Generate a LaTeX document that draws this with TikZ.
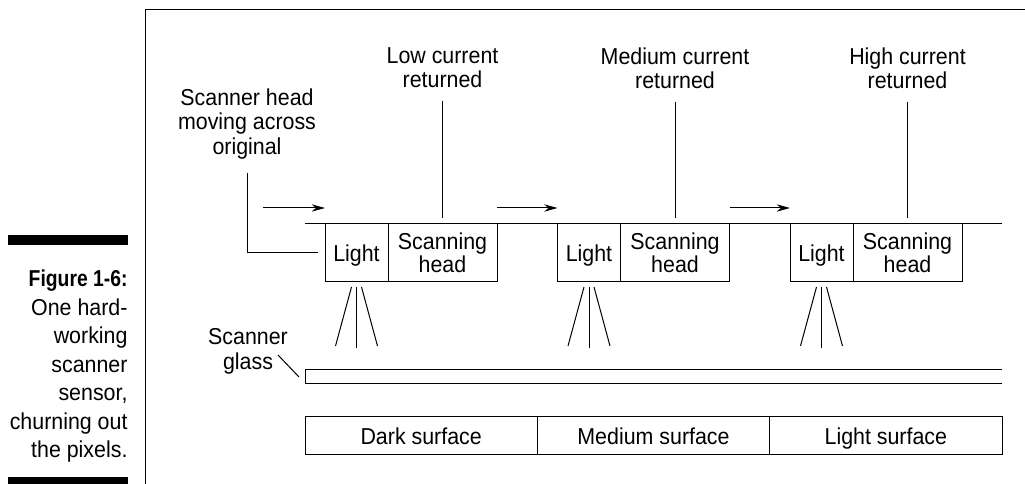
\documentclass[tikz,border=0pt]{standalone}
\usepackage{fontspec}
\setmainfont{Liberation Sans}[FakeStretch=0.93]
\newfontfamily\figfont{Liberation Sans}[FakeStretch=0.84]
\usetikzlibrary{positioning}
\usetikzlibrary{calc}
\usetikzlibrary{arrows.meta}

\tikzset{
  callout/.style = {font = \fontsize{17.25pt}{18.5pt}\selectfont, align = center,
    inner sep = 0},
  lightbox/.style = {draw, minimum width = 47.25pt, minimum height = 43.5pt,
    inner sep = 0, outer sep = 0, text depth = 0pt,
    font = \fontsize{17.25pt}{17.5pt}\selectfont},
  headbox/.style = {draw, minimum width = 81.75pt, minimum height = 43.5pt,
    inner sep = 0, outer sep = 0, align = center,
    font = \fontsize{17.25pt}{17.5pt}\selectfont},
  surface/.style = {draw, minimum width = 174.25pt, minimum height = 28.5pt,
    inner sep = 0, outer sep = 0, text depth = 0pt,
    font = \fontsize{17.25pt}{17.5pt}\selectfont},
  move/.style = {-{Stealth[length = 10pt, width = 5.5pt]}}
}

\begin{document}
\begin{tikzpicture}[x = 0.75pt, y = -0.75pt, line width = 0.75pt]
  \useasboundingbox (0, 0) rectangle (1025, 484);

  % frame and caption bars
  \draw (145, 484) -- (145, 10) -- (1025, 10);
  \fill (8, 235) rectangle (128, 245);
  \fill (8, 477) rectangle (128, 484);

  \node[callout, align = right, anchor = north east,
    font = \fontsize{17.25pt}{21.4pt}\selectfont] (caption) at (128, 269.5)
  {{\figfont\bfseries Figure 1-6:}\\One hard-\\working\\scanner\\sensor,\\churning out\\the pixels.};

  % rail and the three head positions
  \draw (305, 224) -- (1002, 224);

  \node[lightbox] (light1) at (356.5, 253) {Light};
  \node[headbox, right = 0pt of light1] (head1) {Scanning\\head};
  \node[lightbox] (light2) at (589, 253) {Light};
  \node[headbox, right = 0pt of light2] (head2) {Scanning\\head};
  \node[lightbox] (light3) at (821.5, 253) {Light};
  \node[headbox, right = 0pt of light3] (head3) {Scanning\\head};

  % returned currents
  \node[callout, anchor = north] (low) at (442.5, 47) {Low current\\returned};
  \node[callout, anchor = north] (medium) at (675, 47) {Medium current\\returned};
  \node[callout, anchor = north] (high) at (907.5, 47) {High current\\returned};

  \draw[shorten < = 9pt, shorten > = 4.5pt] (low.south) -- (head1.north);
  \draw[shorten < = 9pt, shorten > = 4.5pt] (medium.south) -- (head2.north);
  \draw[shorten < = 9pt, shorten > = 4.5pt] (high.south) -- (head3.north);

  % head moving
  \node[callout, anchor = north] (moving) at (247, 88)
  {Scanner head\\moving across\\original};
  \draw[shorten < = 9.75pt, shorten > = 5.25pt] (moving.south) |- (light1.west);

  \coordinate (start) at (263, 208);
  \draw[move] (start) -- (start -| light1.west);
  \draw[move] (start -| head1.east) -- (start -| light2.west);
  \draw[move] (start -| head2.east) -- (start -| light3.west);

  % light rays
  \draw ($(light1.south) + (0, 5)$) -- +(0, 61);
  \draw ($(light1.south) + (-5, 5)$) -- +(-16, 59);
  \draw ($(light1.south) + (5, 5)$) -- +(16, 59);
  \draw ($(light2.south) + (0, 5)$) -- +(0, 61);
  \draw ($(light2.south) + (-5, 5)$) -- +(-16, 59);
  \draw ($(light2.south) + (5, 5)$) -- +(16, 59);
  \draw ($(light3.south) + (0, 5)$) -- +(0, 61);
  \draw ($(light3.south) + (-5, 5)$) -- +(-16, 59);
  \draw ($(light3.south) + (5, 5)$) -- +(16, 59);

  % scanner glass
  \draw (1002, 370) -| (305, 384) -- (1002, 384);
  \coordinate (glass) at (305, 377);
  \node[callout, anchor = north] (glasslbl) at (248, 328) {Scanner\\glass};
  \draw ($(glass) + (-27, -22)$) -- ($(glass) + (-6, 0)$);

  % original
  \node[surface] (dark) at (421.17, 436) {Dark surface};
  \node[surface, right = 0pt of dark] (mid) {Medium surface};
  \node[surface, right = 0pt of mid] (bright) {Light surface};
\end{tikzpicture}
\end{document}
